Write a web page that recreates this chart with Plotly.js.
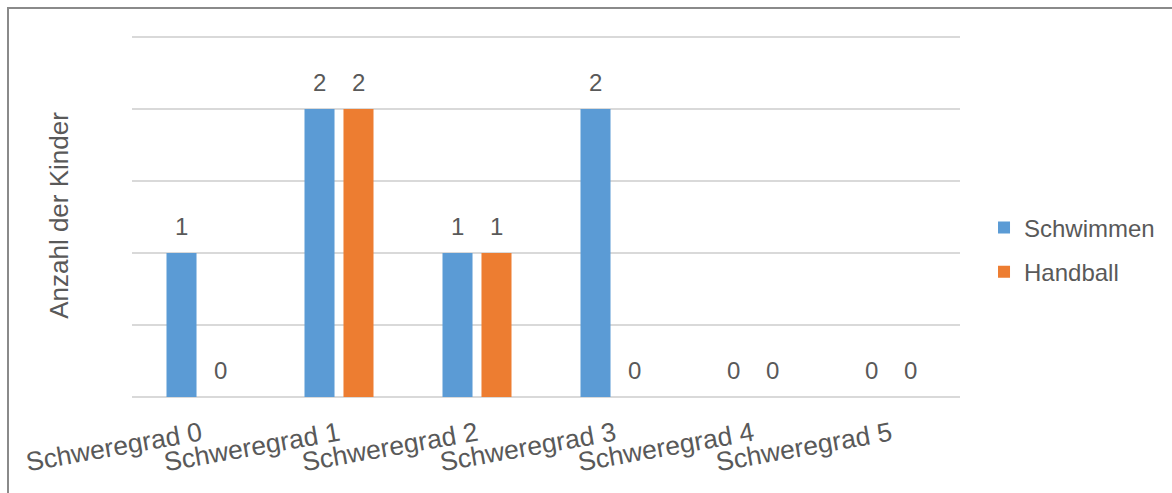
<!DOCTYPE html>
<html>
<head>
<meta charset="utf-8">
<script src="https://cdn.plot.ly/plotly-3.0.1.min.js"></script>
<style>
html,body{margin:0;padding:0;background:#fff;}
#chart{width:1172px;height:493px;}
#frame{position:absolute;left:7px;top:7px;width:1200px;height:600px;border-left:2px solid #8a8a8a;border-top:2px solid #8a8a8a;pointer-events:none;}
</style>
</head>
<body>
<div id="chart"></div>
<div id="frame"></div>
<script>
const categories = ["Schweregrad 0","Schweregrad 1","Schweregrad 2","Schweregrad 3","Schweregrad 4","Schweregrad 5"];
const schwimmen = [1,2,1,2,0,0];
const handball = [0,2,1,0,0,0];
const seriesNames = ["Schwimmen","Handball"];
const yTitle = "Anzahl der Kinder";

const FONT = "Liberation Sans, Arial, sans-serif";
const TXT = "#595959";
const colors = ["#5B9BD5","#ED7D31"];
const series = [schwimmen, handball];

const traces = series.map((vals,i)=>({
  type:"bar", name:seriesNames[i], x:categories, y:vals,
  marker:{color:colors[i]}, legendgroup:"g"+i, hoverinfo:"x+y+name"
}));

const offs = [-19.5, 19.5];
const annotations = [];
series.forEach((vals,i)=>{
  vals.forEach((v,j)=>{
    annotations.push({x:categories[j], y:v, xref:"x", yref:"y", text:String(v),
      showarrow:false, xshift:offs[i], yshift:11, yanchor:"bottom",
      font:{family:FONT,size:24,color:TXT}});
  });
});

const layout = {
  width:1172, height:493,
  margin:{l:132, r:212, t:34, b:96, autoexpand:false},
  paper_bgcolor:"#fff", plot_bgcolor:"#fff",
  barmode:"group", bargap:0.435, bargroupgap:0.23,
  font:{family:FONT, color:TXT, size:24},
  xaxis:{type:"category", tickangle:-10, ticks:"", showgrid:false, zeroline:false, showline:false,
    ticklabelstandoff:16,
    tickfont:{family:FONT,size:26.5,color:TXT}, automargin:false},
  yaxis:{range:[0,2.52], tickvals:[0,0.5,1,1.5,2,2.5], showticklabels:false, ticks:"", showgrid:true,
    gridcolor:"#d9d9d9", gridwidth:1.5, zeroline:true, zerolinecolor:"#d9d9d9", zerolinewidth:1.5,
    automargin:false,
    title:{text:yTitle, standoff:54, font:{family:FONT,size:26,color:TXT}}},
  legend:{x:1.029, xanchor:"left", y:0.405, yanchor:"middle", traceorder:"grouped", tracegroupgap:10,
    font:{family:FONT,size:24,color:TXT}, bgcolor:"rgba(0,0,0,0)"},
  annotations:annotations,
  showlegend:true
};

Plotly.newPlot("chart", traces, layout, {displayModeBar:false, staticPlot:true});
</script>
</body>
</html>
